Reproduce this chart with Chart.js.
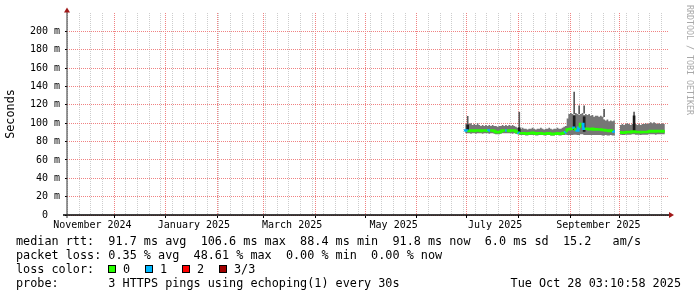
<!DOCTYPE html>
<html>
<head>
<meta charset="utf-8">
<script src="https://cdn.jsdelivr.net/npm/chart.js@4.4.1/dist/chart.umd.min.js"></script>
<style>
  html, body { margin: 0; padding: 0; background: #fff; }
  #wrap { width: 697px; height: 297px; }
</style>
</head>
<body>
<div id="wrap"><canvas id="c" width="697" height="297"></canvas></div>
<script>
const DAY = 86400000;

// x axis window (360 days ending Oct 28 2025)
const xMin = Date.UTC(2024, 10, 2, 17, 0);
const xMax = Date.UTC(2025, 9, 29, 21, 20);

// daily samples, first one is Jun 30 2025; Sep 29/30 missing
const firstDay = Date.UTC(2025, 5, 30);

const smokeMax = [
  97, 99, 100, 99, 100, 98, 99, 98, 100, 98,
  97, 98, 97, 98, 97, 98, 97, 98, 97, 97,
  96, 97, 97, 98, 97, 98, 97, 98, 97, 98,
  97, 96,
  95, 95, 94, 95, 94, 94, 93, 94, 94, 95,
  94, 93, 94, 94, 95, 94, 93, 94, 94, 95,
  94, 93, 94, 94, 95, 94, 94, 95, 96, 97,
  105, 110, 111, 110, 109, 111, 110, 109, 110, 111,
  109, 110, 109, 110, 108, 109, 107, 108, 108, 107,
  108, 107, 104, 103, 104, 102, 103, 102, 103,
  null, null,
  99, 98, 99, 98, 99, 100, 99, 98, 99, 100,
  99, 98, 99, 98, 99, 99, 100, 99, 100, 101,
  100, 101, 100, 99, 100, 99, 100, 99
];

const smokeMin = [
  89, 89, 89, 89, 88.5, 89, 89, 88.5, 89, 89,
  89, 88.5, 89, 89, 89, 88.5, 89, 89, 88.5, 88,
  88, 88, 88.5, 89, 89, 89, 89, 89, 89, 88.5,
  89, 88.5,
  88, 87.5, 87, 87, 87, 86.5, 86.5, 87, 87, 87,
  87, 86.5, 86.5, 87, 87, 87, 86.5, 86.5, 87, 87,
  86.5, 86.5, 86.5, 87, 87, 86.5, 86.5, 87, 87, 87.5,
  87, 87, 87, 87, 87.5, 87.5, 87, 87, 88, 88,
  87, 87, 87, 87, 87, 87, 87, 87, 87, 87,
  87, 86.5, 86.5, 87, 86.5, 86.5, 87, 86.5, 86.5,
  null, null,
  88, 87.5, 87, 87, 87.5, 87.5, 87.5, 87.5, 88, 88,
  87.5, 87.5, 87.5, 87, 87.5, 87.5, 87.5, 87.5, 88, 88,
  88, 88, 87.5, 88, 88, 88, 88, 88
];

const median = [
  91, 92, 92, 91.5, 92, 92, 91.5, 92, 92, 92,
  91.5, 92, 92, 92, 91.5, 92, 92, 92, 91.5, 90.5,
  90, 90, 91, 92, 92, 92, 92, 91.5, 92, 92,
  92, 91,
  90, 89.5, 89, 89, 89, 88.5, 88.5, 89, 89, 89.5,
  89, 88.5, 89, 89, 89, 88.5, 88.5, 88.5, 89, 89,
  88.5, 88, 88.5, 88.5, 89, 88.5, 88.5, 89, 89.5, 90,
  93, 93.5, 94, 94, 95, 93, 92, 95, 99, 99,
  94, 94, 94, 93.5, 93.5, 94, 93, 93.5, 93, 93,
  93, 92.5, 92.5, 92, 92, 91.5, 92, 91.5, 91,
  null, null,
  90, 90, 89.5, 89.5, 90, 90.5, 90.5, 90, 91, 91,
  90.5, 90.5, 90.5, 90, 90.5, 90.5, 90.5, 90.5, 91, 91.5,
  91, 91.5, 91, 91.5, 91.5, 91, 91.5, 91
];

// lost pings per sample (of 3)
const loss = [
  1, 1, 0, 0, 0, 0, 0, 0, 0, 0,
  0, 0, 0, 0, 1, 0, 0, 0, 0, 0,
  0, 0, 0, 0, 1, 0, 0, 0, 0, 0,
  0, 0, 1, 0, 0, 0, 0, 0, 0, 0,
  0, 0, 0, 0, 0, 0, 0, 0, 0, 0,
  0, 0, 0, 0, 0, 0, 0, 0, 0, 0,
  1, 0, 0, 0, 0, 1, 0, 1, 1, 0,
  1, 1, 0, 0, 0, 0, 0, 0, 0, 0,
  0, 0, 0, 0, 0, 0, 0, 0, 0, 1,
  0, 0, 0, 0, 0, 0, 0, 0, 0, 0,
  0, 0, 0, 0, 0, 0, 0, 0, 0, 0,
  0, 0, 0, 0, 0, 0, 0, 0, 0, 0,
  0
];

// thin outlier spikes above the smoke
const spikeIdx  = [1, 32, 65, 68, 71, 83, 101];
const spikeLow  = [98, 95, 110, 110, 111, 107, 99];
const spikeHigh = [107.5, 112, 134, 119, 119, 115, 112];

// dark vertical bars
const darkIdx  = [1, 32, 65, 71, 101];
const darkLow  = [92, 90, 93, 91, 91];
const darkHigh = [98, 95, 108, 107, 108];

const lossColors = ['#26ff00', '#00b8ff', '#ff0000', '#a00000'];
const lossLabels = ['0', '1', '2', '3/3'];

const monthLabels = ['November 2024', 'January 2025', 'March 2025', 'May 2025', 'July 2025', 'September 2025'];
const monthLabelDates = [Date.UTC(2024, 10, 1), Date.UTC(2025, 0, 1), Date.UTC(2025, 2, 1),
                         Date.UTC(2025, 4, 1), Date.UTC(2025, 6, 1), Date.UTC(2025, 8, 1)];
const monthLines = [Date.UTC(2024, 11, 1), Date.UTC(2025, 0, 1), Date.UTC(2025, 1, 1), Date.UTC(2025, 2, 1),
                    Date.UTC(2025, 3, 1), Date.UTC(2025, 4, 1), Date.UTC(2025, 5, 1), Date.UTC(2025, 6, 1),
                    Date.UTC(2025, 7, 1), Date.UTC(2025, 8, 1), Date.UTC(2025, 9, 1)];
const firstSunday = Date.UTC(2024, 10, 3);

const yLabelValues = [0, 20, 40, 60, 80, 100, 120, 140, 160, 180, 200];
const yLabelText = ['0  ', '20 m', '40 m', '60 m', '80 m', '100 m', '120 m', '140 m', '160 m', '180 m', '200 m'];

const rttLine  = 'median rtt:  91.7 ms avg  106.6 ms max  88.4 ms min  91.8 ms now  6.0 ms sd  15.2   am/s';
const lossLine = 'packet loss: 0.35 % avg  48.61 % max  0.00 % min  0.00 % now';
const probeLine = 'probe:       3 HTTPS pings using echoping(1) every 30s';
const stampLine = 'Tue Oct 28 03:10:58 2025';

// ---------------------------------------------------------------
const xOf = i => firstDay + i * DAY;
const pts = arr => arr.map((v, i) => ({ x: xOf(i), y: v }));

const MONO = "'DejaVu Sans Mono', monospace";
const MAJOR = 'rgb(240, 130, 130)';
const MINOR = 'rgb(205, 205, 205)';
const NONE = 'rgba(0,0,0,0)';
const LABEL_SHIFT = 17 * DAY;

const xTicks = [];
monthLines.forEach(v => xTicks.push({ value: v, kind: 'month', txt: '' }));
for (let t = firstSunday; t <= xMax; t += 7 * DAY) {
  if (!monthLines.includes(t)) xTicks.push({ value: t, kind: 'week', txt: '' });
}
monthLabelDates.forEach((d, i) => xTicks.push({ value: d + LABEL_SHIFT, kind: 'label', txt: monthLabels[i] }));
xTicks.sort((a, b) => a.value - b.value);
const xKind = xTicks.map(t => t.kind);

const yTicks = [];
for (let v = 0; v <= 210; v += 10) yTicks.push(v);

const decor = {
  id: 'decor',
  afterDraw(chart) {
    const { ctx, chartArea: a } = chart;
    ctx.save();

    // axes
    ctx.strokeStyle = '#000';
    ctx.lineWidth = 1.5;
    ctx.beginPath();
    ctx.moveTo(a.left - 4, a.bottom);
    ctx.lineTo(a.right + 2, a.bottom);
    ctx.stroke();
    ctx.strokeStyle = '#333';
    ctx.lineWidth = 1;
    ctx.beginPath();
    ctx.moveTo(a.left, a.bottom + 3);
    ctx.lineTo(a.left, a.top - 2);
    ctx.stroke();

    // arrows
    ctx.fillStyle = '#a01818';
    ctx.beginPath();
    ctx.moveTo(a.right + 1, a.bottom - 3);
    ctx.lineTo(a.right + 1, a.bottom + 3);
    ctx.lineTo(a.right + 6, a.bottom);
    ctx.closePath();
    ctx.fill();
    ctx.beginPath();
    ctx.moveTo(a.left - 3, a.top - 0.5);
    ctx.lineTo(a.left + 3, a.top - 0.5);
    ctx.lineTo(a.left, a.top - 5.5);
    ctx.closePath();
    ctx.fill();

    // vertical axis title
    ctx.fillStyle = '#000';
    ctx.font = '11.8px ' + MONO;
    ctx.save();
    ctx.translate(11, (a.top + a.bottom) / 2);
    ctx.rotate(-Math.PI / 2);
    ctx.textAlign = 'center';
    ctx.textBaseline = 'middle';
    ctx.fillText('Seconds', 0, 0);
    ctx.restore();

    // watermark
    ctx.save();
    ctx.fillStyle = '#a8a8a8';
    ctx.font = '8.3px ' + MONO;
    ctx.translate(693, 5);
    ctx.rotate(Math.PI / 2);
    ctx.textAlign = 'left';
    ctx.textBaseline = 'top';
    ctx.fillText('RRDTOOL / TOBI OETIKER', 0, 0);
    ctx.restore();

    // legend rows
    ctx.font = '11.8px ' + MONO;
    ctx.textBaseline = 'alphabetic';
    ctx.textAlign = 'left';
    ctx.fillText(rttLine, 16, 244.5);
    ctx.fillText(lossLine, 16, 258.7);
    ctx.fillText('loss color:', 16, 273);
    lossColors.forEach((c, i) => {
      const bx = 108 + i * 37;
      ctx.fillStyle = c;
      ctx.fillRect(bx, 265, 8, 8);
      ctx.strokeStyle = '#000';
      ctx.lineWidth = 1;
      ctx.strokeRect(bx + 0.5, 265.5, 7, 7);
      ctx.fillStyle = '#000';
      ctx.fillText(lossLabels[i], bx + 15, 273);
    });
    ctx.fillText(probeLine, 16, 287.3);
    ctx.textAlign = 'right';
    ctx.fillText(stampLine, 681, 287.3);
    ctx.restore();
  }
};

new Chart(document.getElementById('c'), {
  type: 'line',
  data: {
    datasets: [
      {
        label: 'median',
        data: pts(median),
        borderWidth: 2.5,
        stepped: 'after',
        pointRadius: 0,
        fill: false,
        spanGaps: false,
        borderColor: lossColors[0],
        segment: { borderColor: c => lossColors[loss[c.p0DataIndex]] },
        order: 0
      },
      {
        type: 'bar',
        label: 'dark',
        data: darkIdx.map((d, i) => ({ x: xOf(d) + DAY / 2, y: [darkLow[i], darkHigh[i]] })),
        backgroundColor: '#1c1c1c',
        barThickness: 2,
        grouped: false,
        borderWidth: 0,
        order: 1
      },
      {
        type: 'bar',
        label: 'spikes',
        data: spikeIdx.map((d, i) => ({ x: xOf(d) + DAY / 2, y: [spikeLow[i], spikeHigh[i]] })),
        backgroundColor: '#5a5a5a',
        barThickness: 1,
        grouped: false,
        borderWidth: 0,
        order: 2
      },
      {
        label: 'min',
        data: pts(smokeMin),
        borderWidth: 0,
        stepped: 'after',
        pointRadius: 0,
        fill: false,
        spanGaps: false,
        order: 4
      },
      {
        label: 'max',
        data: pts(smokeMax),
        borderWidth: 0,
        stepped: 'after',
        pointRadius: 0,
        fill: '-1',
        backgroundColor: '#767676',
        spanGaps: false,
        order: 3
      }
    ]
  },
  options: {
    responsive: false,
    animation: false,
    devicePixelRatio: 1,
    layout: { padding: { left: 0, right: 29, top: 13, bottom: 0 } },
    plugins: { legend: { display: false }, tooltip: { enabled: false } },
    scales: {
      x: {
        type: 'linear',
        min: xMin,
        max: xMax,
        offset: false,
        afterBuildTicks: s => { s.ticks = xTicks.map(t => ({ value: t.value })); },
        afterFit: s => { s.height = 82; },
        grid: {
          offset: false,
          lineWidth: 1,
          color: c => xKind[c.index] === 'month' ? MAJOR : (xKind[c.index] === 'week' ? MINOR : NONE),
          tickLength: 3,
          tickColor: c => xKind[c.index] === 'month' ? '#000' : NONE
        },
        border: { display: false, dash: [1, 1] },
        ticks: {
          autoSkip: false,
          maxRotation: 0,
          minRotation: 0,
          padding: 1,
          color: '#000',
          font: { family: MONO, size: 10 },
          callback: (v, i) => xTicks[i].txt
        }
      },
      y: {
        min: 0,
        max: 220,
        afterBuildTicks: s => { s.ticks = yTicks.map(v => ({ value: v })); },
        afterFit: s => { s.width = 67; },
        grid: {
          lineWidth: 1,
          color: c => yTicks[c.index] % 20 === 0 ? MAJOR : MINOR,
          tickLength: 2,
          tickColor: c => yTicks[c.index] % 20 === 0 ? '#000' : NONE
        },
        border: { display: false, dash: [1, 1] },
        ticks: {
          padding: 5,
          color: '#000',
          font: { family: MONO, size: 10 },
          callback: v => {
            const k = yLabelValues.indexOf(v);
            return k >= 0 ? yLabelText[k] : '';
          }
        }
      }
    }
  },
  plugins: [decor]
});
</script>
</body>
</html>
